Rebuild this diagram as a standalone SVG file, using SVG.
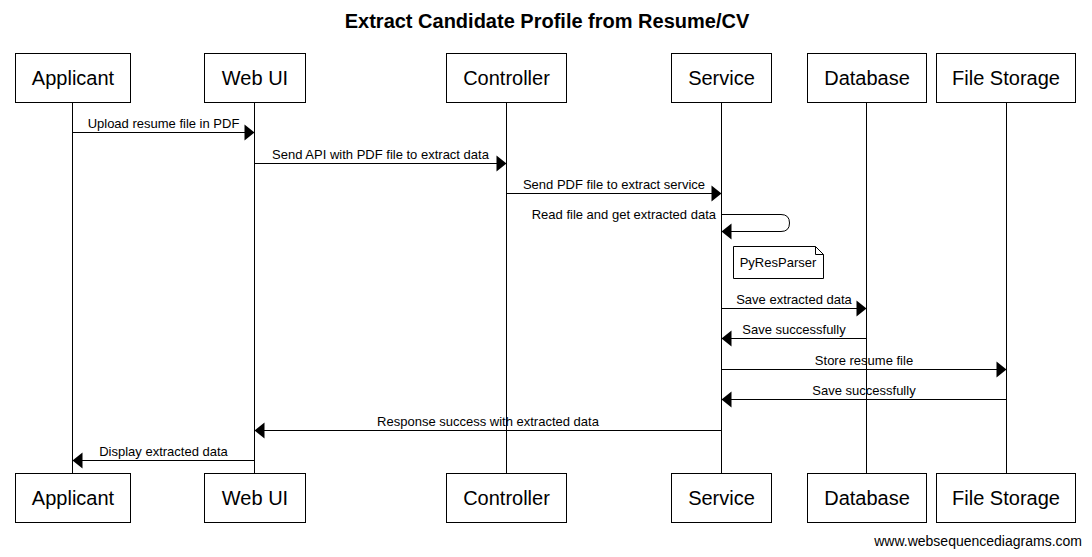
<svg xmlns="http://www.w3.org/2000/svg" width="1092" height="557" viewBox="0 0 1092 557">
<style>
.box{fill:#fff;stroke:#000;stroke-width:1}
.pt{font-family:"Liberation Sans",Arial,sans-serif;font-size:20px;fill:#000;text-anchor:middle}
.life{stroke:#000;stroke-width:1}
.msg{stroke:#000;stroke-width:1;fill:none;marker-end:url(#ah)}
.ml{font-family:"Liberation Sans",Arial,sans-serif;font-size:13px;fill:#000;text-anchor:middle}
.title{font-family:"Liberation Sans",Arial,sans-serif;font-size:20px;font-weight:bold;fill:#000;text-anchor:middle}
.foot{font-family:"Liberation Sans",Arial,sans-serif;font-size:14px;fill:#000;text-anchor:end}
</style>
<defs>
<marker id="ah" markerUnits="userSpaceOnUse" markerWidth="10" markerHeight="16" refX="10" refY="8" orient="auto" overflow="visible">
<path d="M0,0 L10,8 L0,16 z" fill="#000"/>
</marker>
</defs>
<rect width="1092" height="557" fill="#fff"/>
<text class="title" x="547" y="28">Extract Candidate Profile from Resume/CV</text>

<g id="lifelines">
<line class="life" x1="72.5" y1="102" x2="72.5" y2="473"/>
<line class="life" x1="254.5" y1="102" x2="254.5" y2="473"/>
<line class="life" x1="506.5" y1="102" x2="506.5" y2="473"/>
<line class="life" x1="721.5" y1="102" x2="721.5" y2="473"/>
<line class="life" x1="866.5" y1="102" x2="866.5" y2="473"/>
<line class="life" x1="1006.5" y1="102" x2="1006.5" y2="473"/>
</g>

<g id="applicant">
<rect class="box" x="15.5" y="53.5" width="115" height="49"/>
<text class="pt" x="73" y="85">Applicant</text>
<rect class="box" x="15.5" y="473.5" width="115" height="49"/>
<text class="pt" x="73" y="505">Applicant</text>
</g>
<g id="webui">
<rect class="box" x="204.5" y="53.5" width="101" height="49"/>
<text class="pt" x="255" y="85">Web UI</text>
<rect class="box" x="204.5" y="473.5" width="101" height="49"/>
<text class="pt" x="255" y="505">Web UI</text>
</g>
<g id="controller">
<rect class="box" x="446.5" y="53.5" width="120" height="49"/>
<text class="pt" x="506.5" y="85">Controller</text>
<rect class="box" x="446.5" y="473.5" width="120" height="49"/>
<text class="pt" x="506.5" y="505">Controller</text>
</g>
<g id="service">
<rect class="box" x="671.5" y="53.5" width="100" height="49"/>
<text class="pt" x="721.5" y="85">Service</text>
<rect class="box" x="671.5" y="473.5" width="100" height="49"/>
<text class="pt" x="721.5" y="505">Service</text>
</g>
<g id="database">
<rect class="box" x="807.5" y="53.5" width="119" height="49"/>
<text class="pt" x="867" y="85">Database</text>
<rect class="box" x="807.5" y="473.5" width="119" height="49"/>
<text class="pt" x="867" y="505">Database</text>
</g>
<g id="filestorage">
<rect class="box" x="936.5" y="53.5" width="139" height="49"/>
<text class="pt" x="1006" y="85">File Storage</text>
<rect class="box" x="936.5" y="473.5" width="139" height="49"/>
<text class="pt" x="1006" y="505">File Storage</text>
</g>

<g id="note">
<path d="M733.5,246.5 H815.5 L823.5,254.5 V278.5 H733.5 Z" fill="#fff" stroke="#000"/>
<path d="M815.5,246.5 V254.5 H823.5" fill="none" stroke="#000"/>
<text class="ml" x="778" y="267">PyResParser</text>
</g>

<g id="connectors">
<line class="msg" x1="72.5" y1="132.5" x2="254.5" y2="132.5"/>
<text class="ml" x="163.5" y="128">Upload resume file in PDF</text>
<line class="msg" x1="254.5" y1="163.5" x2="506.5" y2="163.5"/>
<text class="ml" x="380.5" y="159">Send API with PDF file to extract data</text>
<line class="msg" x1="506.5" y1="193.5" x2="721.5" y2="193.5"/>
<text class="ml" x="614" y="189">Send PDF file to extract service</text>
<path class="msg" d="M721.5,214.5 H781 Q789.5,214.5 789.5,223 Q789.5,231.5 781,231.5 H721.5"/>
<text class="ml" x="716" y="219" style="text-anchor:end">Read file and get extracted data</text>
<line class="msg" x1="721.5" y1="308.5" x2="866.5" y2="308.5"/>
<text class="ml" x="794" y="304">Save extracted data</text>
<line class="msg" x1="866.5" y1="338.5" x2="721.5" y2="338.5"/>
<text class="ml" x="794" y="334">Save successfully</text>
<line class="msg" x1="721.5" y1="369.5" x2="1006.5" y2="369.5"/>
<text class="ml" x="864" y="365">Store resume file</text>
<line class="msg" x1="1006.5" y1="399.5" x2="721.5" y2="399.5"/>
<text class="ml" x="864" y="395">Save successfully</text>
<line class="msg" x1="721.5" y1="430.5" x2="254.5" y2="430.5"/>
<text class="ml" x="488" y="426">Response success with extracted data</text>
<line class="msg" x1="254.5" y1="460.5" x2="72.5" y2="460.5"/>
<text class="ml" x="163.5" y="456">Display extracted data</text>
</g>

<text class="foot" x="1082" y="546">www.websequencediagrams.com</text>
</svg>
